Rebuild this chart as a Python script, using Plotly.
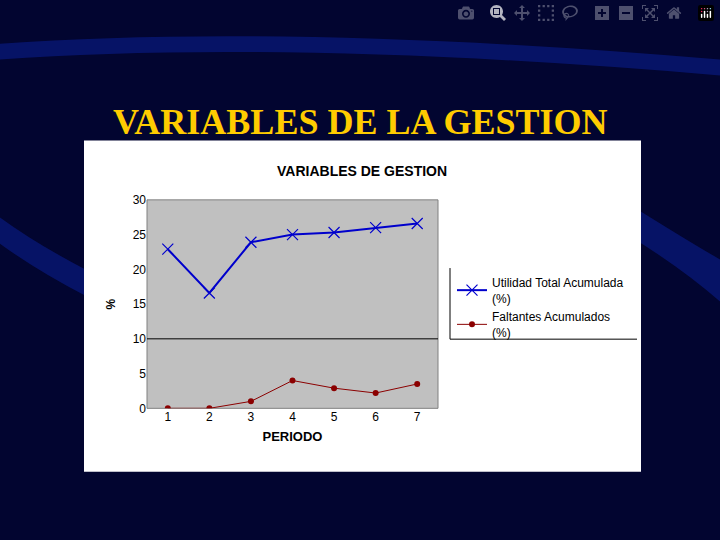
import plotly.graph_objects as go

periodos = [1, 2, 3, 4, 5, 6, 7]
utilidad = [22.9, 16.6, 23.9, 25.0, 25.3, 26.0, 26.6]
faltantes = [0.0, 0.0, 1.0, 4.0, 2.9, 2.2, 3.5]

W, H = 720, 540
def px(x): return x / W
def py(y): return 1 - y / H

fig = go.Figure()
fig.add_trace(go.Scatter(x=periodos, y=utilidad, mode="lines+markers",
    name="Utilidad Total Acumulada<br>(%)",
    line=dict(color="#0000CC", width=2),
    marker=dict(symbol="x-thin", size=11, line=dict(color="#0000CC", width=1.2))))
fig.add_trace(go.Scatter(x=periodos, y=faltantes, mode="lines+markers",
    name="Faltantes Acumulados<br>(%)",
    line=dict(color="#8B0000", width=1),
    marker=dict(symbol="circle", size=6, color="#8B0000")))

shapes = [
    dict(type="path", xref="paper", yref="paper",
         path="M 0,0.93 Q 0.4,0.97 1,0.9 L 1,0.87 Q 0.4,0.94 0,0.9 Z",
         fillcolor="#0a1c8a", line=dict(width=0), layer="below", opacity=0.6),
    dict(type="path", xref="paper", yref="paper",
         path="M 0,0.6 Q 0.05,0.55 0.12,0.5 L 0.12,0.45 Q 0.05,0.5 0,0.55 Z",
         fillcolor="#0a1c8a", line=dict(width=0), layer="below", opacity=0.6),
    dict(type="path", xref="paper", yref="paper",
         path="M 0.88,0.62 Q 0.95,0.56 1,0.52 L 1,0.44 Q 0.95,0.5 0.88,0.56 Z",
         fillcolor="#0a1c8a", line=dict(width=0), layer="below", opacity=0.6),
    dict(type="rect", xref="paper", yref="paper", x0=px(84), x1=px(641), y0=py(477), y1=py(137),
         fillcolor="white", line=dict(width=0), layer="below"),
    dict(type="rect", xref="paper", yref="paper", x0=px(147), x1=px(438), y0=py(412), y1=py(198),
         fillcolor="#C0C0C0", line=dict(color="#808080", width=1), layer="below"),
    dict(type="line", xref="x", yref="y", x0=0.5, x1=7.5, y0=10, y1=10,
         line=dict(color="black", width=1)),
    dict(type="line", xref="paper", yref="paper", x0=px(450), x1=px(450), y0=py(341), y1=py(268),
         line=dict(color="black", width=1)),
    dict(type="line", xref="paper", yref="paper", x0=px(450), x1=px(637), y0=py(341), y1=py(341),
         line=dict(color="black", width=1)),
]

fig.update_layout(
    width=W, height=H, margin=dict(l=0, r=0, t=0, b=0),
    paper_bgcolor="#020530", plot_bgcolor="rgba(0,0,0,0)",
    shapes=shapes,
    font=dict(family="Liberation Sans, Arial", color="black", size=12),
    xaxis=dict(domain=[px(147), px(438)], range=[0.5, 7.5], tickvals=periodos,
               showgrid=False, zeroline=False, showline=False, ticks="",
               tickfont=dict(size=12),
               title=dict(text="<b>PERIODO</b>", font=dict(size=13), standoff=8)),
    yaxis=dict(domain=[py(412), py(198)], range=[0, 30], dtick=5,
               showgrid=False, zeroline=False, showline=False, ticks="",
               tickfont=dict(size=12),
               title=dict(text="<b>%</b>", font=dict(size=12), standoff=14)),
    legend=dict(x=px(452), y=py(268), xanchor="left", yanchor="top",
                bgcolor="rgba(0,0,0,0)", font=dict(size=12), tracegroupgap=6),
    annotations=[
        dict(text="<b>VARIABLES DE LA GESTION</b>", xref="paper", yref="paper",
             x=0.5, y=py(95), showarrow=False,
             font=dict(family="Liberation Serif, Times New Roman", size=36, color="#FFCC00")),
        dict(text="<b>VARIABLES DE GESTION</b>", xref="paper", yref="paper",
             x=px(362), y=py(158), showarrow=False,
             font=dict(size=14, color="black")),
    ],
)
fig.write_html("out.html", post_script="document.body.style.margin='0';document.body.style.background='#020530';")
